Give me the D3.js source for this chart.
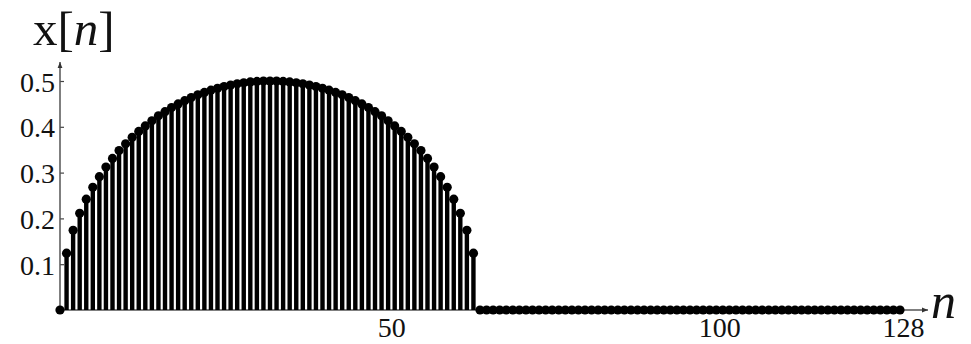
<!DOCTYPE html>
<html>
<head>
<meta charset="utf-8">
<script src="https://cdn.jsdelivr.net/npm/d3@7"></script>
<style>
  body { margin: 0; background: #fff; }
  svg { display: block; font-family: "Liberation Serif", "DejaVu Serif", serif; }
</style>
</head>
<body>
<div id="chart"></div>
<script>
// sample values x[n], n = 0..128
const halfValues = [0, 0.124, 0.174, 0.211, 0.242, 0.268, 0.291, 0.312, 0.331, 0.348, 0.363, 0.377, 0.390, 0.402, 0.413, 0.424,
  0.433, 0.442, 0.450, 0.457, 0.464, 0.470, 0.475, 0.480, 0.484, 0.488, 0.491, 0.494, 0.496, 0.498, 0.499, 0.500,
  0.500, 0.500, 0.499, 0.498, 0.496, 0.494, 0.491, 0.488, 0.484, 0.480, 0.475, 0.470, 0.464, 0.457, 0.450, 0.442,
  0.433, 0.424, 0.413, 0.402, 0.390, 0.377, 0.363, 0.348, 0.331, 0.312, 0.291, 0.268, 0.242, 0.211, 0.174, 0.124];
const zeroValues = [0, 0, 0, 0, 0, 0, 0, 0, 0, 0, 0, 0, 0, 0, 0, 0, 0, 0, 0, 0, 0, 0,
  0, 0, 0, 0, 0, 0, 0, 0, 0, 0, 0, 0, 0, 0, 0, 0, 0, 0, 0, 0, 0, 0,
  0, 0, 0, 0, 0, 0, 0, 0, 0, 0, 0, 0, 0, 0, 0, 0, 0, 0, 0, 0, 0];
const values = halfValues.concat(zeroValues);
const xTicks = [50, 100, 128];
const yTicks = [0.1, 0.2, 0.3, 0.4, 0.5];

const width = 971, height = 344;

const svg = d3.select("#chart")
  .append("svg")
  .attr("width", width)
  .attr("height", height);

const x = d3.scaleLinear().domain([0, 128]).range([60, 900]);
const y = d3.scaleLinear().domain([0, 0.5]).range([310, 81]);

const data = values.map((v, n) => ({n: n, v: v}));

const defs = svg.append("defs");
defs.append("marker")
  .attr("id", "arrow")
  .attr("viewBox", "0 -5 10 10")
  .attr("refX", 10)
  .attr("markerWidth", 8)
  .attr("markerHeight", 6)
  .attr("markerUnits", "userSpaceOnUse")
  .attr("orient", "auto")
  .append("path")
  .attr("d", "M0,-4L10,0L0,4Z")
  .attr("fill", "#333");

// axes
const yAxis = d3.axisLeft(y)
  .tickValues(yTicks)
  .tickFormat(d3.format(".1f"))
  .tickSizeInner(-4)
  .tickSizeOuter(0)
  .tickPadding(5);

const gy = svg.append("g")
  .attr("transform", `translate(${x(0)},0)`)
  .call(yAxis);
gy.select(".domain").remove();
gy.selectAll(".tick line").attr("stroke", "#444").attr("stroke-width", 1.2);
gy.selectAll(".tick text")
  .attr("font-size", 28)
  .attr("font-family", "Liberation Serif")
  .attr("fill", "#111")
  .attr("dy", "0.36em");

const xAxis = d3.axisBottom(x)
  .tickValues(xTicks)
  .tickFormat(d3.format("d"))
  .tickSizeInner(-4)
  .tickSizeOuter(0)
  .tickPadding(4);

const gx = svg.append("g")
  .attr("transform", `translate(0,${y(0)})`)
  .call(xAxis);
gx.select(".domain").remove();
gx.selectAll(".tick line").attr("stroke", "#444").attr("stroke-width", 1.2);
gx.selectAll(".tick text")
  .attr("font-size", 28)
  .attr("font-family", "Liberation Serif")
  .attr("fill", "#111")
  .attr("x", 3)
  .attr("y", 27)
  .attr("dy", 0);

svg.append("line")
  .attr("x1", x(0)).attr("x2", x(0))
  .attr("y1", y(0)).attr("y2", 62)
  .attr("stroke", "#555").attr("stroke-width", 1.5)
  .attr("marker-end", "url(#arrow)");

svg.append("line")
  .attr("x1", x(0)).attr("x2", 928)
  .attr("y1", y(0)).attr("y2", y(0))
  .attr("stroke", "#555").attr("stroke-width", 1.5)
  .attr("marker-end", "url(#arrow)");

// stems
svg.append("g").attr("class", "stems")
  .selectAll("line")
  .data(data.filter(d => d.v > 0))
  .enter()
  .append("line")
  .attr("x1", d => x(d.n)).attr("x2", d => x(d.n))
  .attr("y1", y(0)).attr("y2", d => y(d.v))
  .attr("stroke", "#000")
  .attr("stroke-width", 4.4);

// markers
svg.append("g").attr("class", "dots")
  .selectAll("circle")
  .data(data)
  .enter()
  .append("circle")
  .attr("cx", d => x(d.n))
  .attr("cy", d => y(d.v))
  .attr("r", 4.6)
  .attr("fill", "#000");

// labels
const title = svg.append("text")
  .attr("x", 33)
  .attr("y", 45)
  .attr("font-size", 49)
  .attr("font-family", "Liberation Serif")
  .attr("fill", "#111");
title.append("tspan").text("x[");
title.append("tspan").attr("font-style", "italic").text("n");
title.append("tspan").text("]");

svg.append("text")
  .attr("x", 931)
  .attr("y", 318)
  .attr("font-size", 50)
  .attr("font-style", "italic")
  .attr("font-family", "Liberation Serif")
  .attr("fill", "#111")
  .text("n");
</script>
</body>
</html>
